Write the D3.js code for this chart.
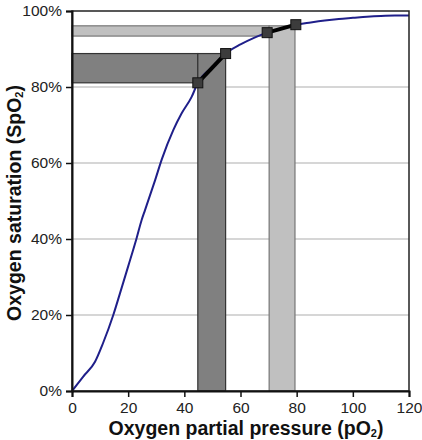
<!DOCTYPE html>
<html><head><meta charset="utf-8">
<script src="https://cdn.jsdelivr.net/npm/d3@7"></script>
<style>body{margin:0;background:#fff}svg{display:block}text{font-family:"Liberation Sans",Arial,sans-serif}</style>
</head><body>
<script>
const curveX = [0, 4, 8.2, 11, 14.7, 17, 20, 23, 24.8, 26, 29.6, 32, 36.1, 39, 42.6, 44.8, 50, 54.7, 60, 65, 69.5, 75, 79.7, 85, 90, 95, 100, 105, 110, 115, 120];
const curveY = [0, 3.8, 7.7, 12.5, 20, 25.5, 32.8, 40.2, 45, 47.6, 55.5, 61, 68.7, 73, 77.4, 81.1, 85.3, 88.8, 91.2, 93, 94.3, 95.5, 96.4, 97, 97.5, 97.9, 98.2, 98.5, 98.7, 98.8, 98.8];
const darkPts = [[44.8, 81.1], [54.7, 88.8]];
const lightPts = [[69.5, 94.3], [79.7, 96.4]];
const lightBand = {x0: 70.2, x1: 79.4, y0: 93.4, y1: 96.1};
const xTicks = [0, 20, 40, 60, 80, 100, 120];
const yTicks = [0, 20, 40, 60, 80, 100];

const W = 422, H = 440;
const m = {l: 72, r: 13, t: 11, b: 49};
const svg = d3.select("body").append("svg").attr("width", W).attr("height", H);
const x = d3.scaleLinear().domain([0, 120]).range([m.l, W - m.r]);
const y = d3.scaleLinear().domain([0, 100]).range([H - m.b, m.t]);

// gridlines
svg.append("g").selectAll("line").data(yTicks.filter(d => d > 0 && d < 100)).join("line")
  .attr("x1", x(0)).attr("x2", x(120)).attr("y1", d => y(d)).attr("y2", d => y(d))
  .attr("stroke", "#c8c8c8").attr("stroke-width", 1.5);

// dark bands
const dk = {fill: "#808080", stroke: "#333"};
svg.append("rect").attr("x", x(0)).attr("y", y(darkPts[1][1])).attr("width", x(darkPts[0][0]) - x(0)).attr("height", y(darkPts[0][1]) - y(darkPts[1][1]))
  .attr("fill", dk.fill).attr("stroke", dk.stroke).attr("stroke-width", 1.2);
svg.append("rect").attr("x", x(darkPts[0][0])).attr("y", y(darkPts[1][1])).attr("width", x(darkPts[1][0]) - x(darkPts[0][0])).attr("height", y(0) - y(darkPts[1][1]))
  .attr("fill", dk.fill).attr("stroke", dk.stroke).attr("stroke-width", 1.2);
// light bands
const lt = {fill: "#c0c0c0", stroke: "#777"};
svg.append("rect").attr("x", x(0)).attr("y", y(lightBand.y1)).attr("width", x(lightBand.x0) - x(0)).attr("height", y(lightBand.y0) - y(lightBand.y1))
  .attr("fill", lt.fill).attr("stroke", lt.stroke).attr("stroke-width", 1.2);
svg.append("rect").attr("x", x(lightBand.x0)).attr("y", y(lightBand.y1)).attr("width", x(lightBand.x1) - x(lightBand.x0)).attr("height", y(0) - y(lightBand.y1))
  .attr("fill", lt.fill).attr("stroke", lt.stroke).attr("stroke-width", 1.2);

// curve
const line = d3.line().x((d, i) => x(curveX[i])).y((d, i) => y(curveY[i])).curve(d3.curveMonotoneX);
svg.append("path").datum(curveX).attr("d", line).attr("fill", "none").attr("stroke", "#1f1f8a").attr("stroke-width", 2);

// thick segments & markers
[darkPts, lightPts].forEach(pts => {
  svg.append("path").datum(pts).attr("d", d3.line().x(d => x(d[0])).y(d => y(d[1])))
    .attr("fill", "none").attr("stroke", "#000").attr("stroke-width", 4);
  svg.append("g").selectAll("rect").data(pts).join("rect")
    .attr("x", d => x(d[0]) - 5).attr("y", d => y(d[1]) - 5).attr("width", 10).attr("height", 10)
    .attr("fill", "#3c3c3c").attr("stroke", "#111").attr("stroke-width", 1);
});

// frame
svg.append("rect").attr("x", x(0)).attr("y", y(100)).attr("width", x(120) - x(0)).attr("height", y(0) - y(100))
  .attr("fill", "none").attr("stroke", "#222").attr("stroke-width", 1.5);

// axes
const xa = svg.append("g").attr("transform", `translate(0,${y(0)})`)
  .call(d3.axisBottom(x).tickValues(xTicks).tickSize(6).tickPadding(5));
const ya = svg.append("g").attr("transform", `translate(${x(0)},0)`)
  .call(d3.axisLeft(y).tickValues(yTicks).tickSize(6).tickPadding(4).tickFormat(d => d + "%"));
[xa, ya].forEach(a => {
  a.select(".domain").attr("stroke", "#111").attr("stroke-width", 2);
  a.selectAll(".tick line").attr("stroke", "#111").attr("stroke-width", 1.5);
  a.selectAll(".tick text").attr("font-size", 15.5).attr("fill", "#222").style("font-family", '"Liberation Sans",Arial,sans-serif');
});

// titles
const xt = svg.append("text").attr("x", 246).attr("y", 435).attr("text-anchor", "middle")
  .attr("font-size", 19.5).attr("font-weight", "bold").attr("fill", "#111");
xt.append("tspan").text("Oxygen partial pressure (pO");
xt.append("tspan").text("2").attr("font-size", 11).attr("dy", 2);
xt.append("tspan").text(")").attr("dy", -2);

const yt = svg.append("text").attr("transform", `translate(21,203) rotate(-90)`).attr("text-anchor", "middle")
  .attr("font-size", 19.5).attr("font-weight", "bold").attr("fill", "#111");
yt.append("tspan").text("Oxygen saturation (SpO");
yt.append("tspan").text("2").attr("font-size", 11).attr("dy", 2);
yt.append("tspan").text(")").attr("dy", -2);
</script>
</body></html>
